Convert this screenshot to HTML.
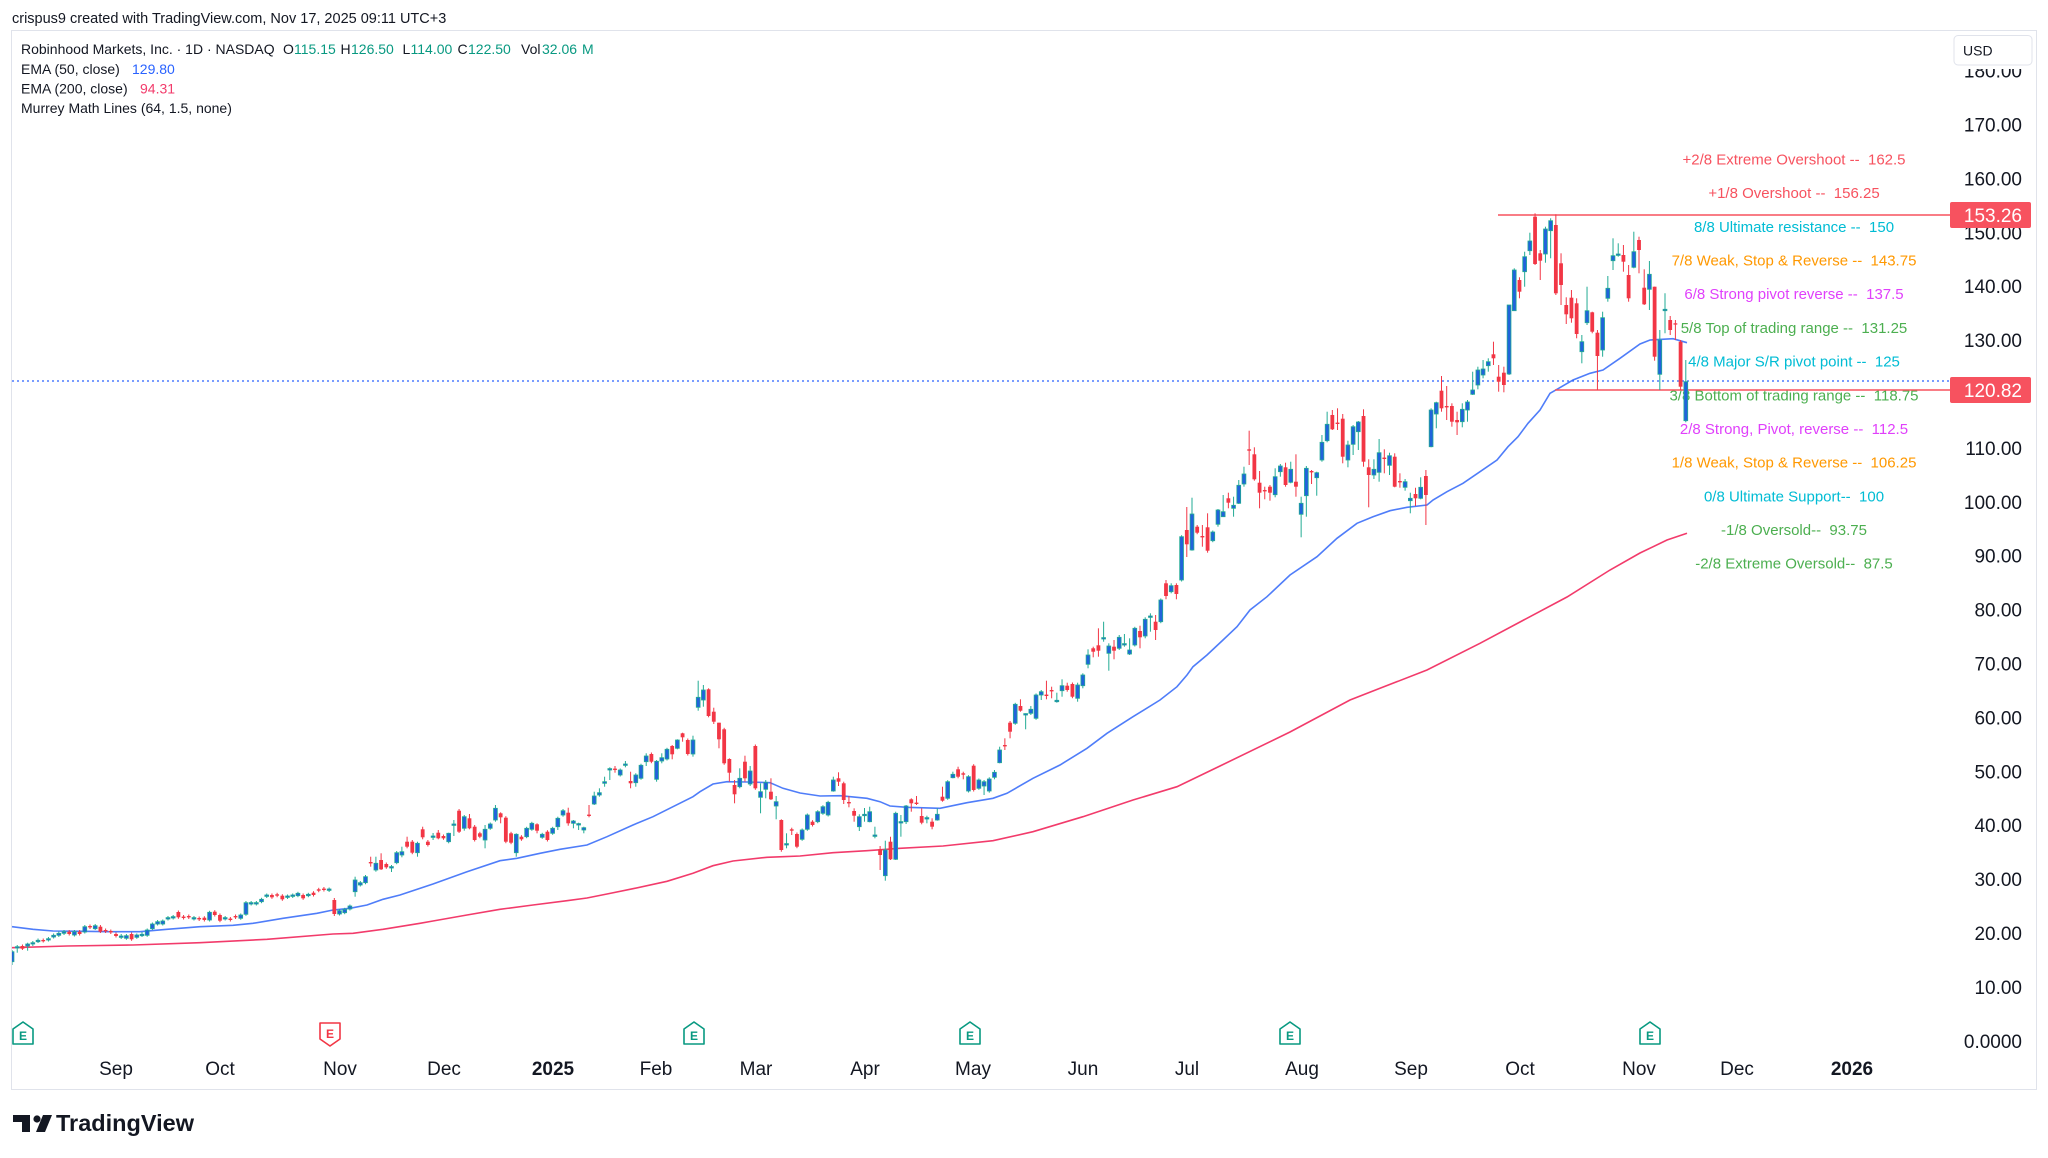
<!DOCTYPE html>
<html><head><meta charset="utf-8"><style>
html,body{margin:0;padding:0;background:#fff;width:2048px;height:1158px;overflow:hidden}
svg{display:block;font-family:"Liberation Sans",Arial,sans-serif}
.pre{white-space:pre}
</style></head><body>
<svg id="s" width="2048" height="1158" viewBox="0 0 2048 1158" xmlns="http://www.w3.org/2000/svg">
<defs><clipPath id="pane"><rect x="12" y="31" width="1938" height="1058"/></clipPath></defs>
<rect width="2048" height="1158" fill="#fff"/>
<text x="12" y="23" font-size="14.5" fill="#131722">crispus9 created with TradingView.com, Nov 17, 2025 09:11 UTC+3</text>
<rect x="11.5" y="30.5" width="2025" height="1059" fill="none" stroke="#e0e3eb" stroke-width="1"/>

<!-- legend -->
<g font-size="14" fill="#131722">
<text x="21" y="54">Robinhood Markets, Inc. · 1D · NASDAQ</text>
<text x="283" y="54">O</text><text x="294" y="54" fill="#089981">115.15</text>
<text x="340.5" y="54">H</text><text x="351" y="54" fill="#089981">126.50</text>
<text x="402.5" y="54">L</text><text x="410.5" y="54" fill="#089981">114.00</text>
<text x="457.5" y="54">C</text><text x="468" y="54" fill="#089981">122.50</text>
<text x="521" y="54">Vol</text><text x="542" y="54" fill="#089981">32.06</text><text x="582" y="54" fill="#089981">M</text>
<text x="21" y="74">EMA (50, close)</text><text x="132" y="74" fill="#2962ff">129.80</text>
<text x="21" y="93.5">EMA (200, close)</text><text x="140" y="93.5" fill="#f23b6b">94.31</text>
<text x="21" y="113">Murrey Math Lines (64, 1.5, none)</text>
</g>

<!-- Murrey labels -->
<g font-size="15" text-anchor="middle" class="pre">
<text x="1794" y="164.4" fill="#f7525f" class="pre">+2/8 Extreme Overshoot --  162.5</text>
<text x="1794" y="198.1" fill="#f7525f" class="pre">+1/8 Overshoot --  156.25</text>
<text x="1794" y="231.8" fill="#00bcd4" class="pre">8/8 Ultimate resistance --  150</text>
<text x="1794" y="265.5" fill="#ff9800" class="pre">7/8 Weak, Stop &amp; Reverse --  143.75</text>
<text x="1794" y="299.2" fill="#e040fb" class="pre">6/8 Strong pivot reverse --  137.5</text>
<text x="1794" y="332.9" fill="#4caf50" class="pre">5/8 Top of trading range --  131.25</text>
<text x="1794" y="366.6" fill="#00bcd4" class="pre">4/8 Major S/R pivot point --  125</text>
<text x="1794" y="400.3" fill="#4caf50" class="pre">3/8 Bottom of trading range --  118.75</text>
<text x="1794" y="433.9" fill="#e040fb" class="pre">2/8 Strong, Pivot, reverse --  112.5</text>
<text x="1794" y="467.6" fill="#ff9800" class="pre">1/8 Weak, Stop &amp; Reverse --  106.25</text>
<text x="1794" y="501.3" fill="#00bcd4" class="pre">0/8 Ultimate Support--  100</text>
<text x="1794" y="535" fill="#4caf50" class="pre">-1/8 Oversold--  93.75</text>
<text x="1794" y="568.7" fill="#4caf50" class="pre">-2/8 Extreme Oversold--  87.5</text>
</g>

<g clip-path="url(#pane)">
<!-- EMA 200 -->
<polyline fill="none" stroke="#f23b6b" stroke-width="1.6" points="12,947.7 67,946 133,945 200,942.7 267,939.3 333,934 353,933.3 383,929.3 420,923.3 433,921 467,915 500,909.3 533,905 567,900.7 587,898 607,894 633,888.7 667,881.3 693,873.3 713,865.7 733,861 767,857.3 783,856.7 800,856 833,852.7 867,850.7 900,848.3 943,846 993,840.7 1033,831.7 1083,816.7 1133,800 1177,786.7 1220,766 1290,732 1350,700 1380,688.3 1427,670 1480,643.3 1520,622 1567,597 1610,570 1640,553 1667,540 1687,533.3"/>
<!-- EMA 50 -->
<polyline fill="none" stroke="#4f7df9" stroke-width="1.6" points="12,926.7 33,929.3 53,931 83,931.3 110,931.7 140,931.7 167,929.3 200,926.7 233,925.3 253,923.3 283,918.3 317,913.3 333,910 350,908.3 367,905 383,899.3 400,895 433,884 467,871.7 500,860.7 517,858.3 540,853.3 560,849.3 587,845 607,836.7 633,825 653,816.7 673,806.7 693,796.7 700,791.7 713,784 727,781.7 747,782 770,782.7 783,788.3 800,793 820,796 840,795.7 867,798.3 880,801.7 890,806 907,807.3 940,808.3 967,802.7 993,798.3 1007,793.3 1033,778.3 1060,765 1087,748.3 1107,733.3 1133,716.7 1160,700 1177,686.7 1187,675 1193,666.7 1207,655 1223,640 1237,626.7 1250,610 1267,596.7 1290,575 1317,556.7 1337,538.3 1357,523.3 1373,516.7 1390,510.7 1407,507.3 1427,505 1433,500 1447,491.7 1463,483.3 1480,471.7 1497,460 1508,446.7 1518,436.7 1528,423.3 1540,410 1550,393.3 1557,389.3 1573,380 1590,373.3 1603,370 1620,358.3 1640,344 1650,340 1673,338.7 1687,342.7"/>
<!-- horizontal lines -->
<line x1="12" x2="1950" y1="381" y2="381" stroke="#2962ff" stroke-width="1.2" stroke-dasharray="2 3"/>
<line x1="1498" x2="1950" y1="215" y2="215" stroke="#f7525f" stroke-width="1.5"/>
<line x1="1555" x2="1950" y1="390" y2="390" stroke="#f7525f" stroke-width="1.5"/>
<g id="candles"></g>
</g>

<!-- price axis -->
<g font-size="19" fill="#131722" text-anchor="end">
<text x="2022" y="77.6">180.00</text>
<text x="2022" y="131.5">170.00</text>
<text x="2022" y="185.4">160.00</text>
<text x="2022" y="239.3">150.00</text>
<text x="2022" y="293.2">140.00</text>
<text x="2022" y="347.1">130.00</text>
<text x="2022" y="454.9">110.00</text>
<text x="2022" y="508.8">100.00</text>
<text x="2022" y="562.7">90.00</text>
<text x="2022" y="616.6">80.00</text>
<text x="2022" y="670.5">70.00</text>
<text x="2022" y="724.4">60.00</text>
<text x="2022" y="778.3">50.00</text>
<text x="2022" y="832.2">40.00</text>
<text x="2022" y="886.1">30.00</text>
<text x="2022" y="940">20.00</text>
<text x="2022" y="993.9">10.00</text>
<text x="2022" y="1047.8">0.0000</text>
</g>
<rect x="1950" y="32" width="85" height="37" fill="#fff"/>
<rect x="1954" y="35.5" width="78" height="29.5" rx="4" fill="#fff" stroke="#e0e3eb"/>
<text x="1963" y="55.5" font-size="14" fill="#131722">USD</text>
<rect x="1950" y="202" width="81" height="26" rx="2" fill="#f7525f"/>
<text x="2022" y="222" font-size="19" fill="#fff" text-anchor="end">153.26</text>
<rect x="1950" y="377" width="81" height="26" rx="2" fill="#f7525f"/>
<text x="2022" y="397" font-size="19" fill="#fff" text-anchor="end">120.82</text>

<!-- earnings badges -->
<g fill="#fff" stroke="#089981" stroke-width="1.6" stroke-linejoin="round">
<path d="M13 1044 V1029 L23 1022 L33 1029 V1044 Z"/>
<path d="M684 1044 V1029 L694 1022 L704 1029 V1044 Z"/>
<path d="M960 1044 V1029 L970 1022 L980 1029 V1044 Z"/>
<path d="M1280 1044 V1029 L1290 1022 L1300 1029 V1044 Z"/>
<path d="M1640 1044 V1029 L1650 1022 L1660 1029 V1044 Z"/>
</g>
<path d="M320 1023 H340 V1039 L330 1046 L320 1039 Z" fill="#fff" stroke="#f23645" stroke-width="1.6" stroke-linejoin="round"/>
<g font-size="12" font-weight="bold" text-anchor="middle" fill="#089981">
<text x="23" y="1040">E</text><text x="694" y="1040">E</text><text x="970" y="1040">E</text><text x="1290" y="1040">E</text><text x="1650" y="1040">E</text>
</g>
<text x="330" y="1038" font-size="12" font-weight="bold" text-anchor="middle" fill="#f23645">E</text>

<!-- time axis -->
<g font-size="19" fill="#131722" text-anchor="middle">
<text x="116" y="1075">Sep</text>
<text x="220" y="1075">Oct</text>
<text x="340" y="1075">Nov</text>
<text x="444" y="1075">Dec</text>
<text x="553" y="1075" font-weight="bold">2025</text>
<text x="656" y="1075">Feb</text>
<text x="756" y="1075">Mar</text>
<text x="865" y="1075">Apr</text>
<text x="973" y="1075">May</text>
<text x="1083" y="1075">Jun</text>
<text x="1187" y="1075">Jul</text>
<text x="1302" y="1075">Aug</text>
<text x="1411" y="1075">Sep</text>
<text x="1520" y="1075">Oct</text>
<text x="1639" y="1075">Nov</text>
<text x="1737" y="1075">Dec</text>
<text x="1852" y="1075" font-weight="bold">2026</text>
</g>

<!-- TradingView logo -->
<g fill="#131722">
<path d="M13 1115 H30 V1132 H22 V1122 H13 Z"/>
<circle cx="37" cy="1119" r="3.6"/>
<path d="M43 1115 H52 L45 1132 H36 Z"/>
</g>
<text x="56" y="1131" font-size="23.5" font-weight="bold" fill="#131722">TradingView</text>
</svg>
<script>
var D=[
[-20,1,951.7,961.7,950,965],[-19,1,946.7,948,945,952.7],[-18,0,946,948.7,944.5,950],[-17,1,944,946,942.7,950.7],[-16,1,942.7,944,941,946],[-15,1,940.3,941.7,938.5,943],[-14,0,940,941.3,938.5,942.5],[-13,1,938.7,940,937,941.5],[-12,1,935.3,937,933.5,938.5],[-11,1,933.3,935.3,931.5,937],
[-10,1,931.7,933.3,930,935],[-9,0,931.7,934,930,935.5],[-8,1,931.7,935,930,936.5],[-7,0,931.7,934,930,935.5],[-6,1,926.7,932,925,933.5],[-5,0,926,927.4,924.5,929],[-4,1,925.7,928.7,924,930],[-3,0,926.7,931.7,925,933],[-2,0,930,931.4,928.5,933],[-1,0,931,932.4,929.5,934],
[0,0,934,936,932.5,937.5],[1,1,936,937.4,934,939],[2,1,935.7,938.3,934,939.8],[3,0,934,939.3,932.5,940.8],[4,1,935,937.3,933.5,938.8],[5,1,934.3,935.7,932,937],[6,1,930,935.3,928.5,936.8],[7,1,924,928.7,922.5,930],[8,1,921.7,924,920,925.5],[9,1,921,924,919.5,925.5],
[10,1,917.6,919,916,920.5],[11,1,916.6,918,915,919.5],[12,0,912,917.3,910.5,918.8],[13,0,916.6,918,915,919.5],[14,0,916,917.4,914.5,919],[15,1,917.6,919,916,920.5],[16,0,918,919.4,916.5,921],[17,0,917.7,920,916.2,921.5],[18,1,912.3,920,910.8,921.5],[19,0,911.7,915,910.2,916.5],
[20,0,915,920.7,913.5,922.2],[21,1,917.6,919,916,920.5],[22,0,918.6,920,917,921.5],[23,0,916,917.4,914.5,919],[24,1,915,918.3,913.5,919.8],[25,1,902.7,914.3,901,915.8],[26,1,902.6,904,901,905.5],[27,1,902.6,904,901,905.5],[28,1,899.3,901.7,897.8,903.2],[29,1,895,896.4,893.5,898],
[30,0,895,897.3,893.5,898.8],[31,0,894.3,895.7,892.8,897.2],[32,0,895.7,899.3,894.2,900.8],[33,1,896,897.4,894.5,899],[34,1,895,896.4,893.5,898],[35,1,893.3,895.7,891.8,897.2],[36,0,895,898.3,893.5,899.8],[37,1,894.3,895.7,892.8,897.2],[38,0,892.7,895,891.2,896.5],[39,0,889.3,890.7,887.8,892.2],
[40,0,888.6,890,887,891.5],[41,1,889,890.4,887.5,892],[42,0,900,914,898,916],[43,1,910.7,914,909,915.5],[44,1,909.3,912.7,907.8,914.2],[45,1,906,909,904.5,910.5],[46,1,880,891.7,876.7,896.7],[47,1,882.7,885,881,886.5],[48,1,876.7,882.7,875,884.2],[49,0,862,863.4,856.7,866.7],
[50,1,863.3,870,856.7,871.7],[51,0,860,869.3,853.3,870],[52,0,864,867.3,862.5,868.8],[53,1,866.6,868,865,872],[54,1,852.7,862.7,851,864.2],[55,1,851.7,855,846.7,857.3],[56,0,841.7,846.7,836.7,848.3],[57,0,841.7,852.7,840,854.2],[58,1,843.3,852.7,841.7,856.7],[59,0,829.3,837.3,826.7,839.3],
[60,0,841.7,845,840,846.5],[61,1,836,837.4,833,840],[62,0,832.7,838.3,830,839.3],[63,0,836,838.3,834.5,839.8],[64,1,833.3,841.7,832.7,843.3],[65,1,824,825.4,820,836],[66,0,810.7,831.7,809,833],[67,1,816.7,828.3,815,830.7],[68,0,818.3,828.3,814,829.3],[69,0,826.7,840,825,841.5],
[70,0,833.3,836.7,831.8,838.2],[71,1,829.3,840,825,848.3],[72,1,824,828.3,822.5,829.8],[73,1,808.3,820,805,821.7],[74,0,813.3,817.3,812.3,823.3],[75,0,817.7,841.7,816.2,843.2],[76,0,833.3,842.7,831.8,844.2],[77,1,834.3,852.7,833.3,856.7],[78,0,836.7,839.3,835.2,840.8],[79,1,828.3,836.7,826.8,838.2],
[80,1,823.3,829.3,821.8,830.8],[81,0,824.3,830.7,823.3,833.3],[82,1,834.3,837.3,832.8,838.8],[83,0,831.7,840,830.2,841.5],[84,1,828.3,833.3,826.8,834.8],[85,1,818.3,826.7,816.7,830],[86,1,810.7,815,809,816.7],[87,0,812.7,823.3,807.7,825.7],[88,1,821,823.3,820,828.3],[89,1,823.6,825,822.7,830],
[90,1,827.7,830,826.7,833.3],[91,0,814.6,816,805,817.3],[92,1,796,804,791.7,805],[93,1,792.7,795,788.3,796.7],[94,1,781.7,783.3,776.7,786.7],[95,1,768.6,770,767.3,780],[96,0,768.6,770,766,772.7],[97,1,770,775,768.5,776.5],[98,1,764,765.4,761,767.3],[99,0,781,783.3,771.7,788.3],
[100,1,775,782.7,773.3,786.7],[101,1,765.3,778.3,763.8,779.8],[102,1,756,761.7,753.3,766],[103,0,754,761.7,752.5,763.2],[104,1,761.3,779.3,760,781.7],[105,1,757.7,761,753.3,763.3],[106,1,749.3,759,747.8,760.5],[107,0,746,754.3,745,759.3],[108,1,740,748.3,739.3,749.3],[109,0,733.3,737.3,732.7,741.7],
[110,0,740,754,738.5,755.5],[111,1,740,754,735.7,756.7],[112,1,697.3,707.3,680.7,710.7],[113,1,690,700,685,706.7],[114,0,689.3,716,688.3,717.3],[115,0,711.7,721.7,707.7,724],[116,0,722.7,739.3,722.7,748.3],[117,0,729.3,763.3,727.8,764.8],[118,0,759,772.7,758.3,781.7],[119,0,785,794.3,780,803.3],
[120,1,778.3,786.7,768.3,788.3],[121,0,761.7,778.3,755.7,781.7],[122,1,771,784,766,786],[123,0,746,788.3,744.5,789.8],[124,1,791.7,797.3,783.3,813.3],[125,1,782.3,789.3,780,798.3],[126,0,791.7,799.3,778.3,800],[127,1,801.7,806,796,819.3],[128,0,820,850,819.3,851.7],[129,1,843.6,845,833.3,848.3],
[130,0,829.3,830.7,827.7,835],[131,0,834,846.7,832.5,848.2],[132,1,830,839.3,828.5,840.8],[133,1,815,829.3,813.5,830.8],[134,0,821.7,825,820.2,826.5],[135,1,811.7,821.7,810.2,823.2],[136,1,806.7,813.3,805.2,814.8],[137,1,802.3,815,800.8,816.5],[138,1,780,791,776.7,791.7],[139,0,778.3,781.7,772.3,786],
[140,0,783.3,800,781.7,804],[141,0,802,803.4,796,807.3],[142,0,811,815.7,808.3,821.7],[143,1,816.7,826.7,814.3,831],[144,1,814.3,815.7,808,821.7],[145,1,811.7,821.7,806.7,822.3],[146,1,835,836.4,826.7,838.3],[147,0,849.3,855,846,870],[148,1,850,875.7,840.7,880.7],[149,0,841.7,859.3,836.7,860],
[150,1,813.3,859.3,811.7,860],[151,1,821.6,823,815,836.7],[152,1,806,821.7,805,824],[153,0,799.3,803.3,798.3,811.7],[154,0,802.6,804,796,805],[155,0,816,822.7,808.3,824.3],[156,1,817.6,819,815.7,823.3],[157,0,821.7,826.7,818.3,829.3],[158,1,814.3,820,808.3,820.7],[159,0,796.7,800.7,786.7,801.7],
[160,1,781.7,798.3,780.2,799.8],[161,1,774.3,777.7,771.7,778.3],[162,0,769.3,776.7,766.7,778.3],[163,0,773.3,774.7,771.7,779.3],[164,1,776.7,791,775.2,792.5],[165,0,765.7,790,764.2,791.5],[166,1,780,788.3,778.5,789.8],[167,1,781.7,786,780,795],[168,1,779,791,777.3,792.7],[169,1,772.3,777.3,770,779.3],
[170,1,750,762.7,746.7,763.3],[171,0,745,746.4,738.3,750],[172,0,722.7,731.7,721,738.3],[173,1,704.3,723.3,702.8,724.8],[174,0,706,710.7,699.3,711.7],[175,1,713.6,715,713.3,729.3],[176,1,709.3,713.3,706,715],[177,1,695,718.3,693.5,719.8],[178,1,691.7,695,690,700],[179,0,694.6,696,680.7,699.3],
[180,0,690,691.4,686.7,698.3],[181,1,700.3,701.7,692.7,702.7],[182,1,685.7,690.7,679.3,696.7],[183,0,685.7,690,682.7,691.7],[184,0,684,696.7,682.5,698.2],[185,1,685,698.3,682.7,701.7],[186,1,675,685.7,673.3,688.3],[187,1,655,664.3,649.3,668.3],[188,0,648.3,651.7,646.7,657.3],[189,0,645.3,650.7,628.3,656.7],
[190,1,637.6,639,621.7,641.7],[191,1,646,653.3,643.3,670.7],[192,0,646.7,650.7,640,659.3],[193,1,637.3,648.3,635,650],[194,1,643.6,645,634,646.7],[195,1,650,654,638.3,655],[196,1,628.3,645,626.8,646.5],[197,0,631,637.3,625.7,648.3],[198,1,619.3,636,617.3,638.3],[199,1,616,617.4,613.3,631.7],
[200,0,621.7,630,615,640],[201,1,600,621.7,598.5,623.2],[202,0,583.3,596,580,599.3],[203,1,585.7,591.7,583.3,593.3],[204,0,585,594,583.3,599.3],[205,1,536.7,580,535.2,581.5],[206,0,530,544.3,507,557],[207,1,514,550,497.7,550.7],[208,0,526.7,532.7,525,534.2],[209,0,536,537.4,525,546.7],
[210,0,527.3,550.7,513.3,552.7],[211,1,532,540.7,530.5,542.2],[212,1,510,524.3,509,526.7],[213,1,511.7,516.7,495,516.7],[214,0,498.3,502.7,492.7,508.3],[215,1,505.3,508.3,496.7,516.7],[216,1,485.3,503.3,480,504],[217,1,474,484,466.7,486.7],[218,0,449.3,450.7,430.7,465],[219,0,454.3,479.3,447.3,480.7],
[220,0,482.7,492.7,471,508.3],[221,0,490,491.4,486.7,499.3],[222,0,486.7,492.7,485,500.7],[223,1,476.7,494.7,468.3,497.3],[224,1,466,471.7,464,476.7],[225,0,467.3,485,462.7,486.7],[226,1,469.3,482.3,461.7,483.3],[227,0,481.7,486.7,454.3,496.7],[228,1,503.3,514.3,496.7,537.3],[229,1,468.3,495.7,466,516.7],
[230,0,471,472.4,470,484],[231,1,472.7,477.7,471.7,495.7],[232,1,442.3,460,435,461.7],[233,1,424.3,440.7,411.7,442.3],[234,0,415,429.3,410,430],[235,0,422.6,424,408.3,430],[236,0,418.7,456.7,414,463.3],[237,1,445,460,440.7,467.3],[238,1,426.7,444.3,425,455],[239,1,422,431.7,421,450],
[240,0,416,461.7,409.3,466.7],[241,0,467.3,475,459.3,507.3],[242,1,469.3,475,459.3,479],[243,1,452.7,472.3,439,481.7],[244,0,457.6,459,449.3,473.3],[245,1,455.7,465.3,452.7,475],[246,0,456.7,486.7,453.3,487.3],[247,0,481,482.4,473.3,487.7],[248,1,481.7,487.3,479,490.7],[249,1,498.3,500.7,492.7,513.3],
[250,0,494,498.3,487.7,506],[251,1,487.3,498.3,477.3,499.3],[252,0,476,495,470,525],[253,1,410,446.7,408.3,447.3],[254,1,402.7,414,401.7,428.3],[255,0,390.7,408.3,376,411.7],[256,0,406,407.4,386,420],[257,0,406,421.7,403.3,426.7],[258,0,420,422.3,411.7,435],[259,1,409.3,421.7,403.3,427.3],
[260,1,402,410,400,421.7],[261,1,390,394.3,371.7,395],[262,1,370,385,366.7,389.3],[263,1,369,375,360,378.3],[264,1,361.7,365.7,358.3,371.7],[265,0,354.3,358.3,341.7,365],[266,0,376.7,381.7,365,391.7],[267,0,372.7,385,366.7,392.3],[268,1,305,374,305,375],[269,1,270,310.7,268.3,310.7],
[270,0,280,291.7,277.3,298.3],[271,1,256.7,271.7,251.7,286.7],[272,1,241,250.7,232.7,255],[273,0,216.7,264,213.3,265],[274,0,253.3,260.7,250,280],[275,1,229,254,226.7,262.7],[276,1,220.7,230.7,218.3,258.3],[277,0,225,293.3,214.3,295],[278,0,263.3,285,253.3,305],[279,0,305,314.3,297.3,324],
[280,0,297.7,318.3,290,322.7],[281,0,303.3,334,298.3,338.3],[282,1,341.7,351.7,335,363.3],[283,1,310.7,322.7,286.7,325],[284,0,312.3,331.7,311.7,333.3],[285,0,332.7,356,330,390],[286,1,317.7,350,311.7,356.7],[287,1,288.3,298.3,276,301.7],[288,1,255.7,260.7,238.3,270],[289,1,254,255.4,243.3,256.7],
[290,0,255,261.7,245,271.7],[291,0,275,298.3,265,301.7],[292,1,251.7,267.3,231.7,268.3],[293,0,240,250,236.7,273.3],[294,0,287.7,304.3,269.3,305],[295,1,274.3,289.3,261,310],[296,0,286.7,356.7,286.7,360.7],[297,1,340,374.3,330,390],[298,1,309.3,310.7,293.3,333.3],[299,0,320,330,316,335],
[300,0,323.3,324.3,320,340],[301,0,341.7,386.7,340,390],[302,1,381.7,420.7,360,422.3]
];
(function(){
var s='';
for(var k=0;k<D.length;k++){
 var c=D[k];var x=(116+5.198*c[0]).toFixed(2);var up=c[1]===1;
 var col=up?'#22ab94':'#f23645';
 s+='<line x1="'+x+'" x2="'+x+'" y1="'+c[4]+'" y2="'+c[5]+'" stroke="'+col+'" stroke-width="1"/>';
 var h=Math.max(c[3]-c[2],1.3);
 s+='<rect x="'+(x-1.9).toFixed(2)+'" y="'+c[2]+'" width="3.8" height="'+h.toFixed(2)+'" fill="'+(up?'#2163db':'#f23645')+'"'+(up?' stroke="#22ab94" stroke-width="0.8"':'')+'/>';
}
document.getElementById('candles').innerHTML=s;
})();
</script>
</body></html>
